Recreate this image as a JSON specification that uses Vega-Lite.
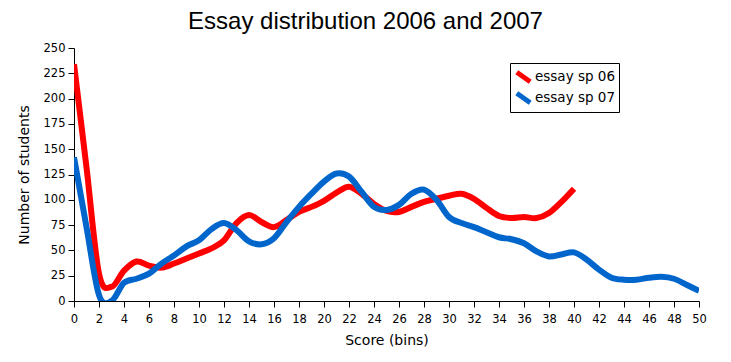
{
  "$schema": "https://vega.github.io/schema/vega-lite/v6.json",
  "autosize": {"type": "none"},
  "width": 625,
  "height": 253,
  "padding": {"left": 74, "top": 48, "right": 32, "bottom": 61},
  "background": "white",
  "title": {
    "text": "Essay distribution 2006 and 2007",
    "font": "Liberation Sans",
    "fontSize": 24,
    "fontWeight": "normal",
    "color": "black",
    "anchor": "middle",
    "baseline": "alphabetic",
    "offset": -11,
    "dx": -21
  },
  "config": {
    "view": {"stroke": null},
    "axis": {
      "labelFont": "DejaVu Sans",
      "labelFontSize": 11.5,
      "labelColor": "black",
      "titleFont": "DejaVu Sans",
      "titleFontSize": 14,
      "titleFontWeight": "normal",
      "titleColor": "black",
      "domainColor": "black",
      "tickColor": "black",
      "grid": false,
      "tickSize": 6
    }
  },
  "data": {
    "values": [
      {"score": 0, "series": "essay sp 06", "students": 234},
      {"score": 1, "series": "essay sp 06", "students": 132},
      {"score": 2, "series": "essay sp 06", "students": 27},
      {"score": 3, "series": "essay sp 06", "students": 14},
      {"score": 4, "series": "essay sp 06", "students": 30},
      {"score": 5, "series": "essay sp 06", "students": 39},
      {"score": 6, "series": "essay sp 06", "students": 35},
      {"score": 7, "series": "essay sp 06", "students": 33},
      {"score": 8, "series": "essay sp 06", "students": 37},
      {"score": 9, "series": "essay sp 06", "students": 42},
      {"score": 10, "series": "essay sp 06", "students": 47},
      {"score": 11, "series": "essay sp 06", "students": 52},
      {"score": 12, "series": "essay sp 06", "students": 60},
      {"score": 13, "series": "essay sp 06", "students": 77},
      {"score": 14, "series": "essay sp 06", "students": 85},
      {"score": 15, "series": "essay sp 06", "students": 78},
      {"score": 16, "series": "essay sp 06", "students": 73},
      {"score": 17, "series": "essay sp 06", "students": 80},
      {"score": 18, "series": "essay sp 06", "students": 88},
      {"score": 19, "series": "essay sp 06", "students": 93},
      {"score": 20, "series": "essay sp 06", "students": 99},
      {"score": 21, "series": "essay sp 06", "students": 107},
      {"score": 22, "series": "essay sp 06", "students": 113},
      {"score": 23, "series": "essay sp 06", "students": 106},
      {"score": 24, "series": "essay sp 06", "students": 96},
      {"score": 25, "series": "essay sp 06", "students": 89},
      {"score": 26, "series": "essay sp 06", "students": 88},
      {"score": 27, "series": "essay sp 06", "students": 93},
      {"score": 28, "series": "essay sp 06", "students": 98},
      {"score": 29, "series": "essay sp 06", "students": 101},
      {"score": 30, "series": "essay sp 06", "students": 104},
      {"score": 31, "series": "essay sp 06", "students": 106},
      {"score": 32, "series": "essay sp 06", "students": 101},
      {"score": 33, "series": "essay sp 06", "students": 92},
      {"score": 34, "series": "essay sp 06", "students": 84},
      {"score": 35, "series": "essay sp 06", "students": 82},
      {"score": 36, "series": "essay sp 06", "students": 83},
      {"score": 37, "series": "essay sp 06", "students": 82},
      {"score": 38, "series": "essay sp 06", "students": 87},
      {"score": 39, "series": "essay sp 06", "students": 98},
      {"score": 40, "series": "essay sp 06", "students": 111},
      {"score": 0, "series": "essay sp 07", "students": 142},
      {"score": 1, "series": "essay sp 07", "students": 73},
      {"score": 2, "series": "essay sp 07", "students": 6},
      {"score": 3, "series": "essay sp 07", "students": 0},
      {"score": 4, "series": "essay sp 07", "students": 18},
      {"score": 5, "series": "essay sp 07", "students": 22},
      {"score": 6, "series": "essay sp 07", "students": 27},
      {"score": 7, "series": "essay sp 07", "students": 37},
      {"score": 8, "series": "essay sp 07", "students": 45},
      {"score": 9, "series": "essay sp 07", "students": 54},
      {"score": 10, "series": "essay sp 07", "students": 60},
      {"score": 11, "series": "essay sp 07", "students": 71},
      {"score": 12, "series": "essay sp 07", "students": 77},
      {"score": 13, "series": "essay sp 07", "students": 70},
      {"score": 14, "series": "essay sp 07", "students": 59},
      {"score": 15, "series": "essay sp 07", "students": 56},
      {"score": 16, "series": "essay sp 07", "students": 62},
      {"score": 17, "series": "essay sp 07", "students": 78},
      {"score": 18, "series": "essay sp 07", "students": 93},
      {"score": 19, "series": "essay sp 07", "students": 106},
      {"score": 20, "series": "essay sp 07", "students": 118},
      {"score": 21, "series": "essay sp 07", "students": 126},
      {"score": 22, "series": "essay sp 07", "students": 123},
      {"score": 23, "series": "essay sp 07", "students": 108},
      {"score": 24, "series": "essay sp 07", "students": 93},
      {"score": 25, "series": "essay sp 07", "students": 90},
      {"score": 26, "series": "essay sp 07", "students": 95},
      {"score": 27, "series": "essay sp 07", "students": 106},
      {"score": 28, "series": "essay sp 07", "students": 110},
      {"score": 29, "series": "essay sp 07", "students": 100},
      {"score": 30, "series": "essay sp 07", "students": 83},
      {"score": 31, "series": "essay sp 07", "students": 77},
      {"score": 32, "series": "essay sp 07", "students": 73},
      {"score": 33, "series": "essay sp 07", "students": 68},
      {"score": 34, "series": "essay sp 07", "students": 63},
      {"score": 35, "series": "essay sp 07", "students": 61},
      {"score": 36, "series": "essay sp 07", "students": 57},
      {"score": 37, "series": "essay sp 07", "students": 49},
      {"score": 38, "series": "essay sp 07", "students": 44},
      {"score": 39, "series": "essay sp 07", "students": 46},
      {"score": 40, "series": "essay sp 07", "students": 48},
      {"score": 41, "series": "essay sp 07", "students": 41},
      {"score": 42, "series": "essay sp 07", "students": 31},
      {"score": 43, "series": "essay sp 07", "students": 23},
      {"score": 44, "series": "essay sp 07", "students": 21},
      {"score": 45, "series": "essay sp 07", "students": 21},
      {"score": 46, "series": "essay sp 07", "students": 23},
      {"score": 47, "series": "essay sp 07", "students": 24},
      {"score": 48, "series": "essay sp 07", "students": 22},
      {"score": 49, "series": "essay sp 07", "students": 16},
      {"score": 50, "series": "essay sp 07", "students": 10}
    ]
  },
  "mark": {"type": "line", "interpolate": "cardinal", "strokeWidth": 6, "clip": true},
  "encoding": {
    "x": {
      "field": "score",
      "type": "quantitative",
      "title": "Score (bins)",
      "scale": {"domain": [0, 50], "nice": false, "zero": false},
      "axis": {
        "values": [0,2,4,6,8,10,12,14,16,18,20,22,24,26,28,30,32,34,36,38,40,42,44,46,48,50],
        "labelPadding": 6,
        "titlePadding": 9,
        "labelFlush": false
      }
    },
    "y": {
      "field": "students",
      "type": "quantitative",
      "title": "Number of students",
      "scale": {"domain": [0, 250], "nice": false},
      "axis": {
        "values": [0,25,50,75,100,125,150,175,200,225,250],
        "labelPadding": 3,
        "titlePadding": 12,
        "labelFlush": false
      }
    },
    "color": {
      "field": "series",
      "type": "nominal",
      "scale": {"domain": ["essay sp 06", "essay sp 07"], "range": ["#FF0000", "#0066CC"]},
      "legend": {
        "title": null,
        "orient": "none",
        "legendX": 436,
        "legendY": 15,
        "strokeColor": "black",
        "fillColor": "white",
        "padding": 4,
        "labelFont": "DejaVu Sans",
        "labelFontSize": 13.5,
        "labelColor": "black",
        "symbolType": "M-1,-0.7L1,0.7",
        "symbolSize": 180,
        "symbolStrokeWidth": 5,
        "labelOffset": 2,
        "rowPadding": 1,
        "clipHeight": 20
      }
    }
  }
}
